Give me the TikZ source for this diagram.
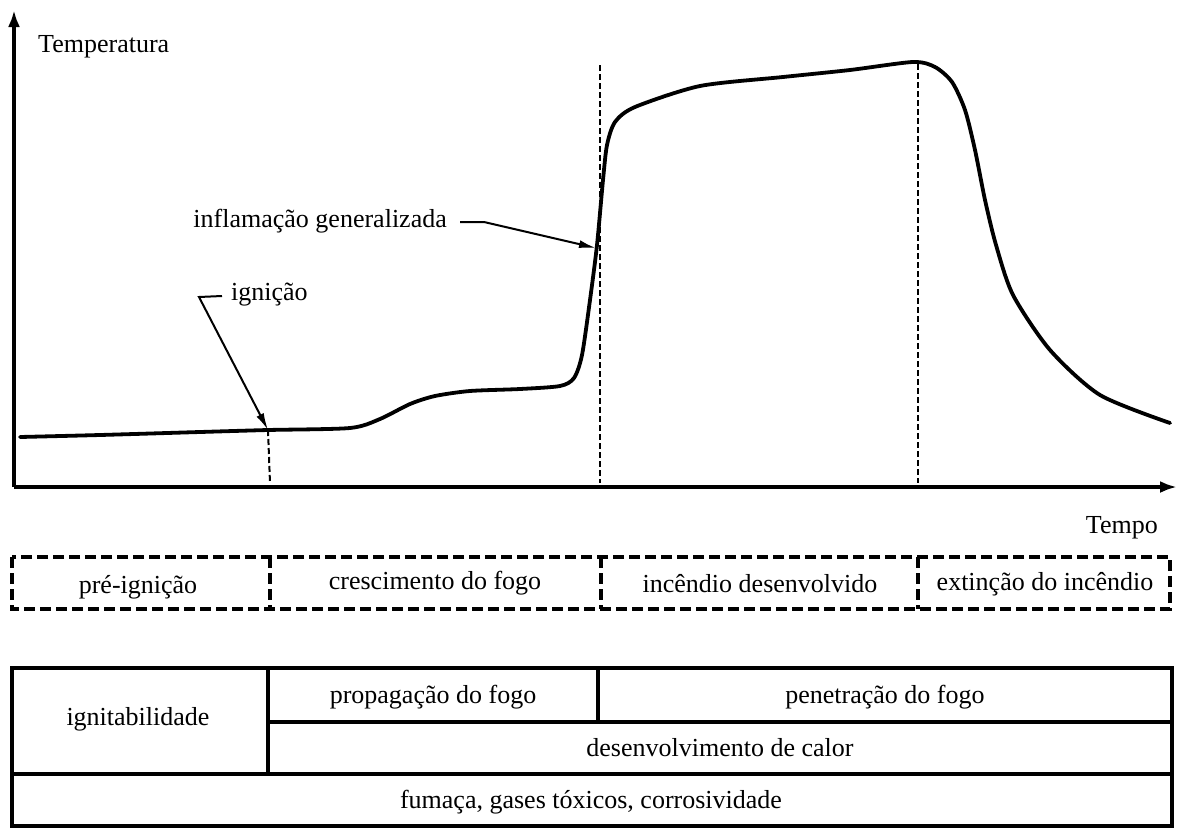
\documentclass[tikz,border=0pt]{standalone}
\usepackage{fontspec}
\setmainfont{Liberation Serif}
\usetikzlibrary{arrows.meta,calc}
\begin{document}
\begin{tikzpicture}[x=1pt,y=-1pt,
  axis/.style={line width=4.5pt,-{Latex[length=17pt,width=12pt]}},
  curve/.style={line width=3.8pt,line join=round,line cap=round},
  guide/.style={line width=2pt,dash pattern=on 6pt off 3pt},
  leader/.style={line width=2pt,-{Latex[length=17pt,width=8pt]}},
  phasebox/.style={line width=4pt,dash pattern=on 11pt off 5pt},
  grid/.style={line width=4.5pt},
  lbl/.style={inner sep=0pt,anchor=base,font=\fontsize{26}{30}\selectfont}]
\useasboundingbox (0,0) rectangle (1177,830);
% axes
\coordinate (O) at (14,487);
\coordinate (ytop) at (14,10);
\coordinate (xend) at (1177,487);
\draw[axis] (O) -- (ytop);
\draw[axis] (O) -- (xend);
\node[lbl,anchor=base west] (temp) at (38,52) {Temperatura};
\node[lbl,anchor=base east] (tempo) at (1158,533) {Tempo};
% curve
\draw[curve] plot[smooth,tension=0.45] coordinates {
 (20,437) (100,435) (200,432) (268,430) (350,428) (380,419) (410,404)
 (435,396) (470,391) (520,389) (560,386) (574,378) (582,355) (590,300)
 (597,245) (603,180) (607,145) (615,122) (635,107) (700,86) (783,77)
 (850,70) (913,62) (935,67) (952,82) (965,110) (975,150) (985,200)
 (996,245) (1013,295) (1050,350) (1100,395) (1170,423)};
% guides
\coordinate (ign) at (268,430);
\coordinate (ignb) at (270,483);
\coordinate (fo) at (596,248);
\coordinate (g1t) at (600,65);
\coordinate (g1b) at (600,483);
\coordinate (g2t) at (918,64);
\coordinate (g2b) at (918,483);
\draw[guide] (ign) -- (ignb);
\draw[guide] (g1t) -- (g1b);
\draw[guide] (g2t) -- (g2b);
% leaders
\node[lbl,anchor=base west] (ignl) at (231,300) {ignição};
\node[lbl,anchor=base east] (fol) at (447,227) {inflamação generalizada};
\coordinate (igns) at (222,296);
\coordinate (ignk) at (199,297);
\coordinate (fos) at (460,222);
\coordinate (fok) at (484,222);
\draw[leader] (igns) -- (ignk) -- (ign);
\draw[leader] (fos) -- (fok) -- (fo);
% phase boxes
\coordinate (pb1) at (12,557);
\coordinate (pb2) at (1170,609);
\draw[phasebox] (pb1) rectangle (pb2);
\draw[phasebox] (270,557) -- (270,609);
\draw[phasebox] (601,557) -- (601,609);
\draw[phasebox] (918,557) -- (918,609);
\node[lbl] (p1) at (138,593) {pré-ignição};
\node[lbl] (p2) at (435,589) {crescimento do fogo};
\node[lbl] (p3) at (760,592) {incêndio desenvolvido};
\node[lbl] (p4) at (1045,590) {extinção do incêndio};
% table
\draw[grid] (12,668) rectangle (1172,826);
\draw[grid] (12,774) -- (1172,774);
\draw[grid] (268,668) -- (268,774);
\draw[grid] (268,722) -- (1172,722);
\draw[grid] (598,668) -- (598,722);
\node[lbl] (t1) at (138,725) {ignitabilidade};
\node[lbl] (t2) at (433,703) {propagação do fogo};
\node[lbl] (t3) at (885,703) {penetração do fogo};
\node[lbl] (t4) at (720,756) {desenvolvimento de calor};
\node[lbl] (t5) at (591,808) {fumaça, gases tóxicos, corrosividade};
\end{tikzpicture}
\end{document}
